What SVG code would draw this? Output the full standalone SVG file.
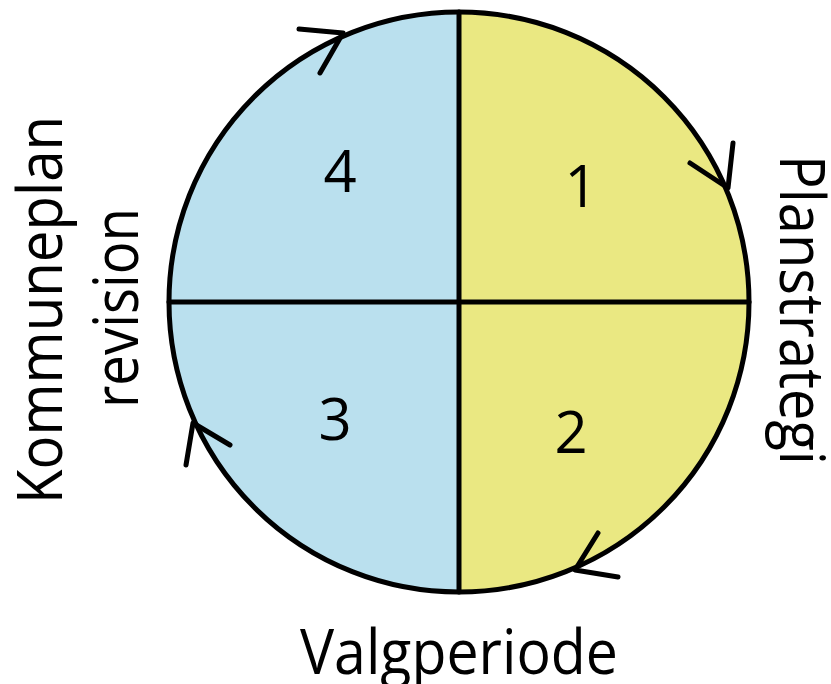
<svg xmlns="http://www.w3.org/2000/svg" width="831" height="684" viewBox="0 0 831 684">
<style>
.ln{stroke:#000;stroke-width:5;fill:none;stroke-linecap:round;stroke-linejoin:round}
.num{font-family:"Open Sans","Liberation Sans",sans-serif;font-size:58px;fill:#000;text-anchor:middle}
.lbl{font-family:"Open Sans","Liberation Sans",sans-serif;font-size:63px;fill:#000;text-anchor:middle}
</style>
<rect width="831" height="684" fill="#fff"/>
<g id="cycle">
<path d="M459,12 A290,290 0 0 0 459,592 Z" fill="#bae0ee"/>
<path d="M459,12 A290,290 0 0 1 459,592 Z" fill="#eae882"/>
<circle cx="459" cy="302" r="290" class="ln"/>
<line x1="459" y1="12" x2="459" y2="592" class="ln"/>
<line x1="169" y1="302" x2="749" y2="302" class="ln"/>
</g>
<g id="connectors">
<polyline points="299,29 343,33 320,73" class="ln"/>
<polyline points="690,163 728,188 733,143" class="ln"/>
<polyline points="598,533 575,570 618,577" class="ln"/>
<polyline points="230,445 193,423 186,465" class="ln"/>
</g>
<g id="q1"><text x="581" y="207" class="num">1</text></g>
<g id="q2"><text x="571" y="453" class="num">2</text></g>
<g id="q3"><text x="335" y="440" class="num">3</text></g>
<g id="q4"><text x="340" y="192" class="num">4</text></g>
<g id="planstrategi"><text transform="translate(780,310) rotate(90)" class="lbl" textLength="310" lengthAdjust="spacingAndGlyphs">Planstrategi</text></g>
<g id="valgperiode"><text x="459" y="674" class="lbl" textLength="318" lengthAdjust="spacingAndGlyphs">Valgperiode</text></g>
<g id="kommuneplan">
<text transform="translate(62,310) rotate(-90)" class="lbl" textLength="388" lengthAdjust="spacingAndGlyphs">Kommuneplan</text>
<text transform="translate(138,308) rotate(-90)" class="lbl" textLength="200" lengthAdjust="spacingAndGlyphs">revision</text>
</g>
</svg>
